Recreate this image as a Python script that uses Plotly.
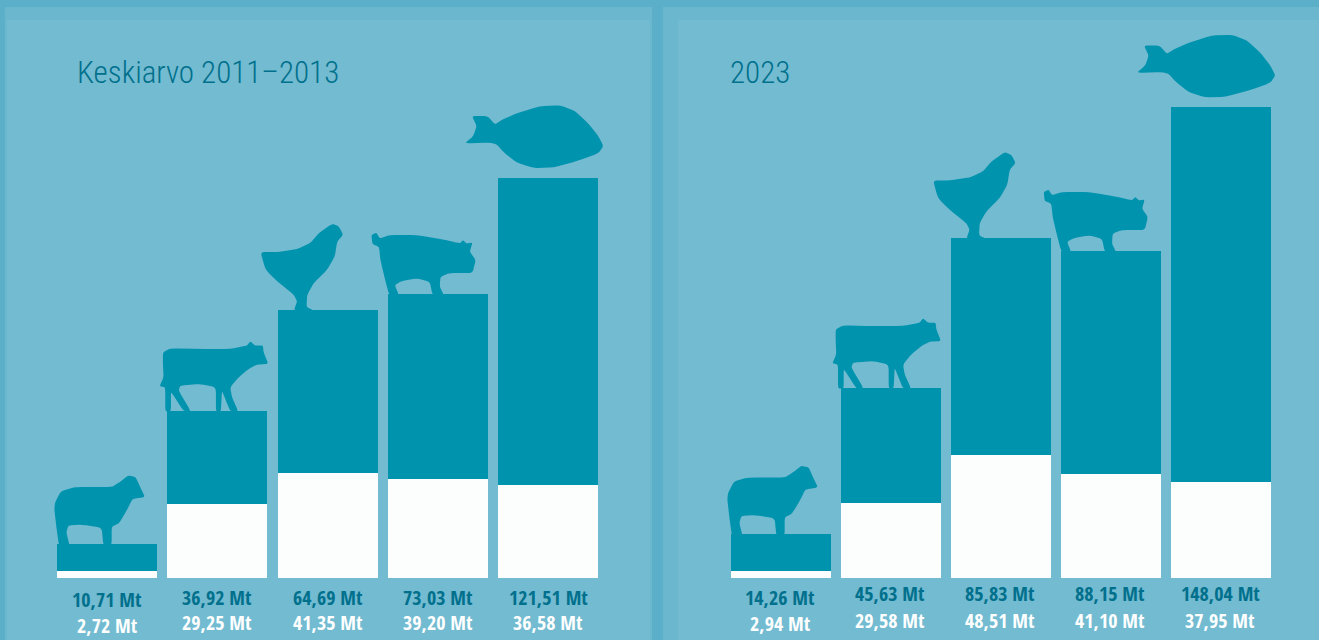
import plotly.graph_objects as go

W, H = 1319, 640
categories = ["Lammas", "Nauta", "Siipikarja", "Sika", "Kala"]
titles = ["Keskiarvo 2011–2013", "2023"]
top_2011 = [10.71, 36.92, 64.69, 73.03, 121.51]
white_2011 = [2.72, 29.25, 41.35, 39.20, 36.58]
top_2023 = [14.26, 45.63, 85.83, 88.15, 148.04]
white_2023 = [2.94, 29.58, 48.51, 41.10, 37.95]

# layout constants (pixels)
PX_PER_MT = 2.53
BASE_PX = 578
PX_PER_CAT = [110.25, 110.0]
BAR_PX = 100
MID = W / 2
LEFT_C0, RIGHT_C0 = 107, 780
TEAL, WHITE, PANEL = "#0093ae", "#fcfdfd", "#72bbd1"
DARK, MED, INK = "#5bafc8", "#6bb7ce", "#00708c"
LABEL_Y = [[(599, 625), (597, 622), (597, 622), (597, 622), (597, 622)],
           [(597, 623), (593, 620), (593, 620), (593, 620), (593, 620)]]

SIL = {
 "Lammas": (36, 234, 3, [(30,110),(48,75),(90,63),(200,63),(225,48),(250,28),(272,33),(285,62),(300,93),(262,99),(248,128),(222,172),(200,182),(200,237),(175,237),(170,185),(110,176),(70,178),(64,200),(74,240),(42,240),(35,190),(28,130)]),
 "Nauta": (51, 570, 3, [(38,395),(60,383),(150,385),(240,385),(290,375),(300,362),(315,375),(338,375),(340,395),(354,430),(320,432),(295,445),(265,470),(240,500),(245,530),(264,572),(240,572),(225,535),(215,510),(212,572),(197,572),(197,500),(150,490),(90,495),(85,510),(122,572),(100,572),(70,525),(62,515),(62,572),(45,572),(45,500),(28,497),(40,470),(38,430)]),
 "Siipikarja": (381, 270, 3, [(330,97),(380,97),(440,88),(480,70),(505,40),(545,12),(565,20),(578,45),(560,65),(553,110),(530,150),(490,190),(470,225),(468,262),(490,272),(430,272),(440,245),(430,225),(380,185),(345,150)]),
 "Sika": (714, 222, 3, [(665,45),(680,38),(690,55),(720,45),(800,45),(880,58),(930,70),(940,60),(950,70),(968,68),(960,95),(978,120),(968,159),(900,159),(872,170),(870,200),(882,224),(848,224),(840,185),(800,175),(755,183),(735,195),(747,224),(718,224),(705,175),(692,120),(688,80),(668,72)]),
 "Kala": (114, 246, 3, [(36,60),(82,60),(105,85),(125,72),(170,52),(240,30),(300,28),(345,45),(385,82),(415,120),(430,150),(415,172),(355,194),(280,214),(220,216),(170,200),(130,168),(110,145),(90,140),(14,142),(40,120),(50,90)]),
}

y_range = [-(H - BASE_PX) / PX_PER_MT, BASE_PX / PX_PER_MT]
xr = [[-LEFT_C0 / PX_PER_CAT[0], (MID - LEFT_C0) / PX_PER_CAT[0]],
      [-(RIGHT_C0 - MID) / PX_PER_CAT[1], (W - RIGHT_C0) / PX_PER_CAT[1]]]
positions = list(range(len(categories)))

fig = go.Figure()
panels = [(top_2011, white_2011, "x", "y"), (top_2023, white_2023, "x2", "y2")]
for q, (tops, whites, xa, ya) in enumerate(panels):
    fig.add_bar(x=positions, y=whites, xaxis=xa, yaxis=ya, width=BAR_PX / PX_PER_CAT[q],
                marker=dict(color=WHITE, line=dict(width=0)), showlegend=False, hoverinfo="skip")
    fig.add_bar(x=positions, y=tops, xaxis=xa, yaxis=ya, width=BAR_PX / PX_PER_CAT[q],
                marker=dict(color=TEAL, line=dict(width=0)), showlegend=False, hoverinfo="skip")


def rect(x0, y0, x1, y1, c):
    return dict(type="rect", xref="paper", yref="paper", layer="below", line_width=0, fillcolor=c,
                x0=x0 / W, x1=x1 / W, y0=1 - y1 / H, y1=1 - y0 / H)


shapes = [rect(0, 0, W, H, DARK),
          rect(5, 7, 652, H, MED), rect(7, 20, 650, H, PANEL),
          rect(663, 7, W, H, MED), rect(678, 20, W, H, PANEL)]


def rounded_path(p, f=0.22):
    """Polygon with slightly softened corners, like the blurred silhouettes."""
    n = len(p)
    lerp = lambda a, b, t: (a[0] + (b[0] - a[0]) * t, a[1] + (b[1] - a[1]) * t)
    d = ""
    for k in range(n):
        a = lerp(p[k], p[k - 1], f)
        b = lerp(p[k], p[(k + 1) % n], f)
        d += ("M" if k == 0 else "L") + f"{a[0]:.4f},{a[1]:.3f} "
        d += f"Q{p[k][0]:.4f},{p[k][1]:.3f} {b[0]:.4f},{b[1]:.3f} "
    return d + "Z"


annotations = []
for p, (tops, whites, xa, ya) in enumerate(panels):
    for i, cat in enumerate(categories):
        ox, oy, s, pts = SIL[cat]
        top_mt = tops[i] + whites[i]
        data_pts = [(i + ((px - ox) / s - BAR_PX / 2) / PX_PER_CAT[p],
                     top_mt - ((py - oy) / s) / PX_PER_MT) for px, py in pts]
        shapes.append(dict(type="path", path=rounded_path(data_pts), xref=xa, yref=ya, layer="above",
                           fillcolor=TEAL, line_width=0))
        for val, py, col in ((tops[i], LABEL_Y[p][i][0], INK), (whites[i], LABEL_Y[p][i][1], "#ffffff")):
            annotations.append(dict(x=i, xref=xa, y=1 - py / H, yref="paper", showarrow=False,
                                    text=f"{val:.2f}".replace(".", ",") + " Mt",
                                    font=dict(family="Open Sans Condensed", size=20, color=col),
                                    xanchor="center", yanchor="middle"))
    annotations.append(dict(x=(75 if p == 0 else 728) / W, xref="paper", y=1 - 72 / H, yref="paper",
                            text=titles[p], showarrow=False, xanchor="left", yanchor="middle",
                            font=dict(family="Roboto Condensed", size=31, color=INK, weight=300)))

ax = dict(visible=False, fixedrange=True)
fig.update_layout(
    width=W, height=H, margin=dict(l=0, r=0, t=0, b=0), barmode="stack", bargap=0,
    paper_bgcolor=PANEL, plot_bgcolor="rgba(0,0,0,0)", showlegend=False,
    xaxis=dict(ax, domain=[0, 0.5], range=xr[0]),
    xaxis2=dict(ax, domain=[0.5, 1], range=xr[1]),
    yaxis=dict(ax, domain=[0, 1], range=y_range, anchor="x"),
    yaxis2=dict(ax, domain=[0, 1], range=y_range, anchor="x2"),
    shapes=shapes, annotations=annotations,
)
fig.write_html("out.html", config=dict(displayModeBar=False),
               post_script="document.body.style.margin='0';document.body.style.overflow='hidden';")
